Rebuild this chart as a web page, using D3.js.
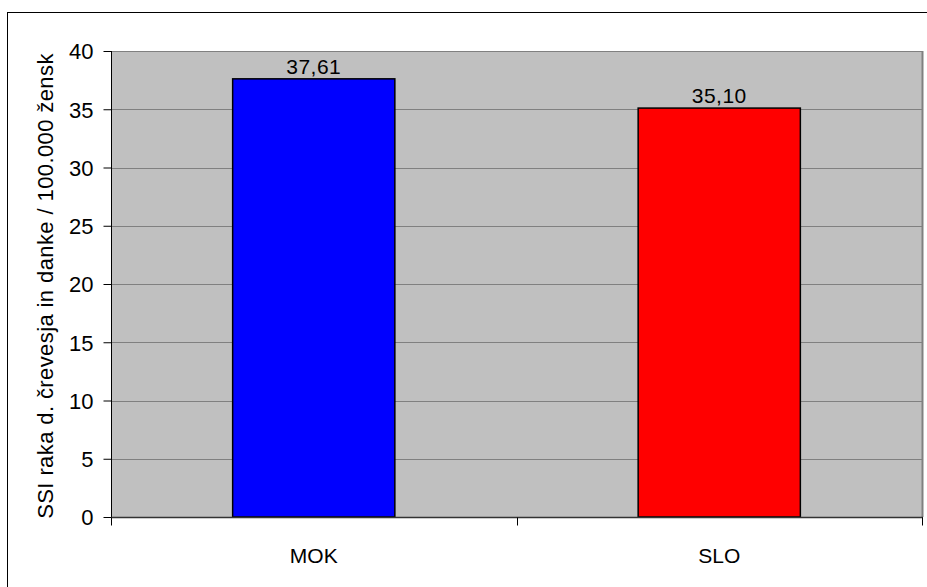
<!DOCTYPE html>
<html><head><meta charset="utf-8">
<script src="https://cdn.jsdelivr.net/npm/d3@7/dist/d3.min.js"></script>
<style>body{margin:0;background:#fff}svg{display:block}text{font-family:"Liberation Sans",Arial,sans-serif;fill:#000}</style>
</head><body><svg id="c" width="927" height="587"></svg>
<script>
const categories = ["MOK", "SLO"];
const values = [37.61, 35.10];
const valueLabels = ["37,61", "35,10"];
const colors = ["#0000FF", "#FF0000"];
const yTicks = [0, 5, 10, 15, 20, 25, 30, 35, 40];
const yTitle = "SSI raka d. črevesja in danke / 100.000 žensk";

const svg = d3.select("#c");
const L = 111, R = 922, T = 51, B = 517;
// outer frame
svg.append("rect").attr("x", 7.5).attr("y", 12.5).attr("width", 940).attr("height", 600)
  .attr("fill", "none").attr("stroke", "#000").attr("stroke-width", 1);

const x = d3.scaleBand().domain(categories).range([L, R]).paddingInner(0).paddingOuter(0);
const y = d3.scaleLinear().domain([0, 40]).range([B, T]);

svg.append("rect").attr("x", L).attr("y", T).attr("width", R - L).attr("height", B - T).attr("fill", "#C0C0C0");
// gridlines
svg.append("g").selectAll("line").data(yTicks.filter(d => d > 0)).join("line")
  .attr("x1", L).attr("x2", R).attr("y1", d => Math.round(y(d)) + 0.5).attr("y2", d => Math.round(y(d)) + 0.5)
  .attr("stroke", "#808080").attr("stroke-width", 1);
svg.append("line").attr("x1", R + 0.5).attr("x2", R + 0.5).attr("y1", T).attr("y2", B).attr("stroke", "#808080").attr("stroke-width", 2);

// bars
const bw = x.bandwidth() * 0.4;
svg.append("g").selectAll("rect").data(values).join("rect")
  .attr("x", (d, i) => x(categories[i]) + x.bandwidth() / 2 - bw / 2)
  .attr("y", d => y(d)).attr("width", bw).attr("height", d => B - y(d))
  .attr("fill", (d, i) => colors[i]).attr("stroke", "#000").attr("stroke-width", 1.5);

// value labels
svg.append("g").selectAll("text").data(values).join("text")
  .attr("x", (d, i) => x(categories[i]) + x.bandwidth() / 2)
  .attr("y", d => y(d) - 5).attr("text-anchor", "middle")
  .attr("font-size", 21).attr("letter-spacing", 0.5).text((d, i) => valueLabels[i]);

// y axis
const ya = svg.append("g").attr("transform", `translate(${L + 0.5},0)`)
  .call(d3.axisLeft(y).tickValues(yTicks).tickSize(8).tickPadding(10).tickFormat(d3.format("d")));
ya.select(".domain").attr("stroke", "#000").attr("d", `M0,${T}V${B}`);
ya.selectAll(".tick line").attr("stroke", "#000");
ya.selectAll(".tick text").attr("font-size", 22).attr("font-family", '"Liberation Sans",Arial,sans-serif').attr("fill", "#000").attr("dy", "0.36em");

// x axis
const xa = svg.append("g").attr("transform", `translate(0,${B + 0.5})`);
xa.append("line").attr("x1", L).attr("x2", R + 1).attr("y1", 0).attr("y2", 0).attr("stroke", "#333").attr("stroke-width", 1.5);
xa.selectAll("line.t").data([L, L + x.bandwidth(), R]).join("line").attr("class", "t")
  .attr("x1", d => Math.round(d) + 0.5).attr("x2", d => Math.round(d) + 0.5).attr("y1", 0).attr("y2", 8).attr("stroke", "#000");
xa.selectAll("text").data(categories).join("text")
  .attr("x", d => x(d) + x.bandwidth() / 2).attr("y", 45).attr("text-anchor", "middle")
  .attr("font-size", 21).text(d => d);

// y title
svg.append("text").attr("transform", `translate(53,286) rotate(-90)`)
  .attr("text-anchor", "middle").attr("font-size", 22).attr("letter-spacing", 0.4).text(yTitle);
</script></body></html>
